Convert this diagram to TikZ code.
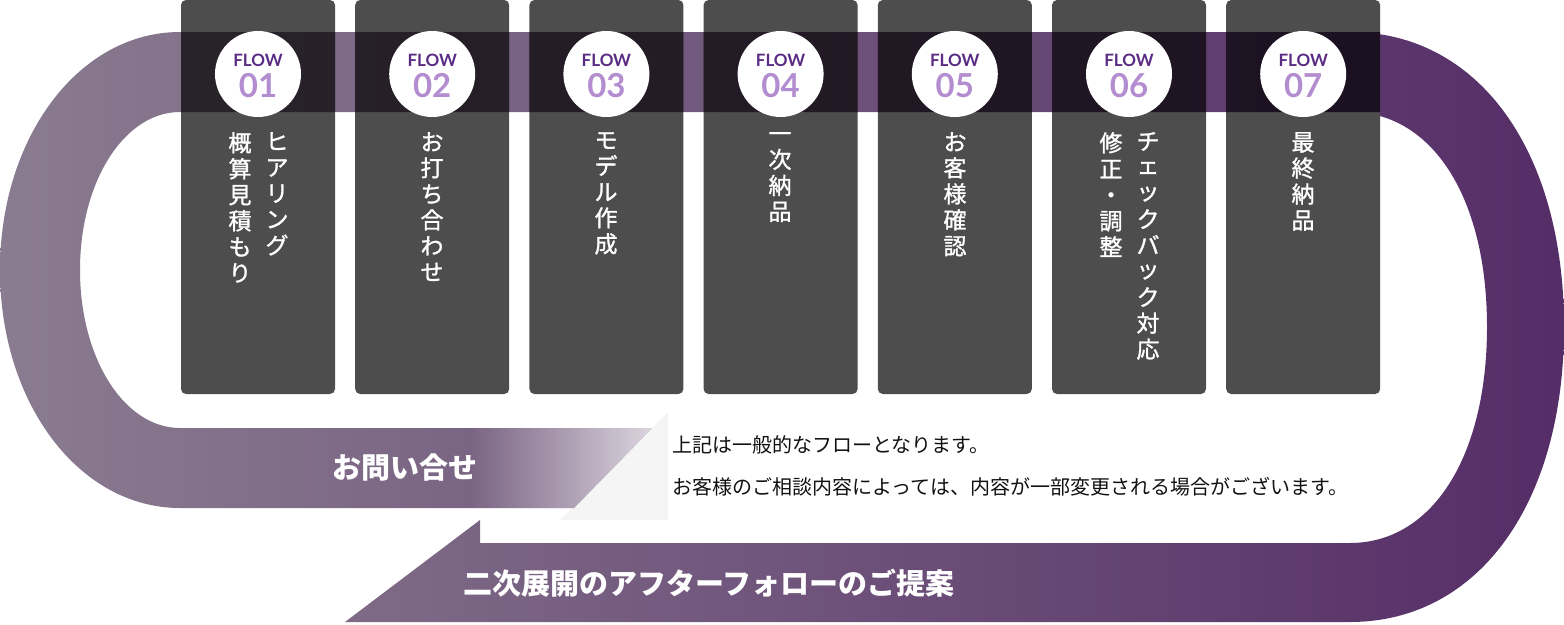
\documentclass[tikz,border=0pt]{standalone}
\usepackage{fontspec}
\newfontfamily\jp{Noto Sans CJK JP}
\newfontfamily\jpm{Noto Sans CJK JP}[FakeBold=1.2]
\newfontfamily\lato{Lato}
\usetikzlibrary{fadings}
\definecolor{cardgray}{HTML}{4D4D4D}
\definecolor{bandL}{RGB}{138,124,144}
\definecolor{bandR}{RGB}{85,45,103}
\definecolor{bandLd}{RGB}{42,37,43}
\definecolor{bandRd}{RGB}{26,14,31}
\definecolor{flowdark}{HTML}{5B2C83}
\definecolor{flowlight}{HTML}{B38DCF}
\definecolor{pale}{HTML}{F5F5F6}
\definecolor{notetxt}{HTML}{111111}
\tikzfading[name=tipfade, left color=transparent!100, right color=transparent!25]
\newcommand\sk[1]{\raisebox{2pt}{#1}}
\begin{document}
\begin{tikzpicture}[x=1pt,y=-1pt,
  card/.style={fill=cardgray, rounded corners=5pt, minimum width=154pt, minimum height=394pt, inner sep=0pt, draw=none},
  flowcirc/.style={circle, fill=white, minimum size=86pt, inner sep=0pt},
  flowlab/.style={text=flowdark, font=\lato\bfseries\fontsize{17}{17}\selectfont, anchor=base, inner sep=0pt},
  flownum/.style={text=flowlight, font=\lato\bfseries\fontsize{33}{33}\selectfont, anchor=base, inner sep=0pt},
  vtxt/.style={text=white, font=\jpm\fontsize{23}{26}\selectfont, align=center, anchor=north, inner sep=0pt},
  bandtxt/.style={text=white, font=\jp\bfseries\fontsize{29}{29}\selectfont, inner sep=0pt},
  notetext/.style={text=notetxt, font=\jp\fontsize{20}{20}\selectfont, anchor=west, inner sep=0pt}]
\useasboundingbox (0,0) rectangle (1564,624);

% pale fold
\fill[pale] (668,412) -- (668,520) -- (560,520) -- cycle;

% loop band
\shade[left color=bandL, right color=bandR]
  (574,508) -- (180,508)
  .. controls (79,508) and (0,403) .. (0,270)
  .. controls (0,137) and (79,32) .. (180,32)
  -- (1350,32)
  .. controls (1478,32) and (1564,150) .. (1564,327)
  .. controls (1564,504) and (1478,622) .. (1350,622)
  -- (345,622) -- (480,520) -- (480,543) -- (1350,543)
  .. controls (1432,543) and (1487,457) .. (1487,327)
  .. controls (1487,197) and (1432,112) .. (1350,112)
  -- (180,112)
  .. controls (124,112) and (80,182) .. (80,270)
  .. controls (80,358) and (124,428) .. (180,428)
  -- (652,428) -- cycle;
% fade at the tip of the inquiry band
\fill[white, path fading=tipfade] (470,428) -- (652,428) -- (574,508) -- (470,508) -- cycle;

% cards
\foreach \i in {1,...,7}{
  \node[card] (c\i) at ({258+174.2*(\i-1)},197) {};
}
% band seen through the cards (multiply)
\begin{scope}
  \clip foreach \i in {0,...,6} {({181+174.2*\i},32) rectangle ++(154,80)};
  \shade[left color=bandLd, right color=bandRd] (0,32) rectangle (1564,112);
\end{scope}

% circles and labels
\foreach \i/\n in {1/01,2/02,3/03,4/04,5/05,6/06,7/07}{
  \node[flowcirc] (fc\i) at ({258+174.2*(\i-1)},74) {};
  \node[flowlab] (fl\i) at ({258+174.2*(\i-1)},66) {FLOW};
  \node[flownum] (fn\i) at ({258+174.2*(\i-1)},97) {\n};
}

% vertical texts
\node[vtxt] (t1a) at (277,132) {ヒ\\ア\\リ\\ン\\グ};
\node[vtxt] (t1b) at (240,132) {概\\算\\見\\積\\も\\り};
\node[vtxt] (t2) at (432,132) {お\\打\\ち\\合\\わ\\せ};
\node[vtxt] (t3) at (606,132) {モ\\デ\\ル\\作\\成};
\node[vtxt] (t4) at (780,132) {一\\次\\納\\品};
\node[vtxt] (t5) at (955,132) {お\\客\\様\\確\\認};
\node[vtxt] (t6a) at (1148,132) {チ\\\sk{ェ}\\\sk{ッ}\\ク\\バ\\\sk{ッ}\\ク\\対\\応};
\node[vtxt] (t6b) at (1111,132) {修\\正\\・\\調\\整};
\node[vtxt] (t7) at (1303,132) {最\\終\\納\\品};

% band labels
\node[bandtxt] (inq) at (405,468) {お問い合せ};
\node[bandtxt] (after) at (709,583) {二次展開のアフターフォローのご提案};

% note
\node[notetext] (n1) at (672,445) {上記は一般的なフローとなります。};
\node[notetext] (n2) at (672,487) {お客様のご相談内容によっては、内容が一部変更される場合がございます。};
\end{tikzpicture}
\end{document}
